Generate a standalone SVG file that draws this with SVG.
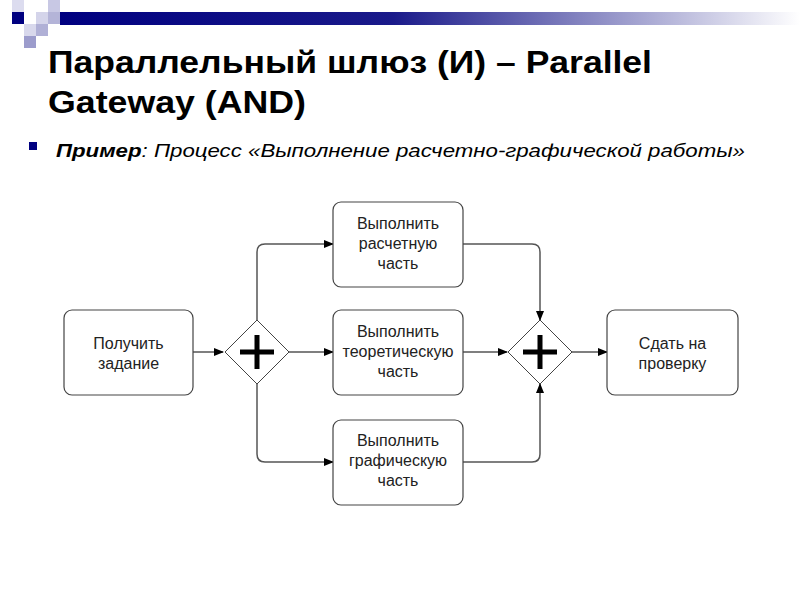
<svg xmlns="http://www.w3.org/2000/svg" width="800" height="600" viewBox="0 0 800 600">
<defs>
<linearGradient id="bar" x1="0" x2="1" y1="0" y2="0"><stop offset="0" stop-color="#000080"/><stop offset="0.45" stop-color="#1a1a8a"/><stop offset="1" stop-color="#ffffff"/></linearGradient>
<marker id="ar" markerWidth="10" markerHeight="8" refX="9" refY="4" orient="auto" markerUnits="userSpaceOnUse"><path d="M0,0 L10,4 L0,8 Z" fill="#000"/></marker>
</defs>
<style>
.box{fill:#fff;stroke:#444;stroke-width:1.2}
.gw{fill:#fff;stroke:#444;stroke-width:1}
.plus{stroke:#000;stroke-width:5}
.c{fill:none;stroke:#555;stroke-width:1.5}
.t{font-family:"Liberation Sans",Arial,sans-serif;font-size:16px;fill:#222;text-anchor:middle}
</style>
<rect width="800" height="600" fill="#fff"/>
<rect x="60" y="12" width="740" height="13" fill="url(#bar)"/>
<rect x="12" y="0" width="12" height="12" fill="#dcdcef"/>
<rect x="48" y="0" width="12" height="12" fill="#c8c8e4"/>
<rect x="12" y="12" width="12" height="12" fill="#000080"/>
<rect x="36" y="12" width="12" height="12" fill="#d4d4ea"/>
<rect x="48" y="12" width="12" height="12" fill="#b4b4d8"/>
<rect x="24" y="24" width="12" height="12" fill="#d8d8ec"/>
<rect x="36" y="24" width="12" height="12" fill="#b0b0d6"/>
<rect x="24" y="36" width="12" height="12" fill="#9c9ccc"/>
<text x="48" y="73" font-family="Liberation Sans,Arial,sans-serif" font-size="31" font-weight="bold" fill="#000" textLength="604" lengthAdjust="spacingAndGlyphs">Параллельный шлюз (И) – Parallel</text>
<text x="48" y="113" font-family="Liberation Sans,Arial,sans-serif" font-size="31" font-weight="bold" fill="#000" textLength="258" lengthAdjust="spacingAndGlyphs">Gateway (AND)</text>
<rect x="29" y="142" width="8" height="8" fill="#000080"/>
<text x="56" y="157" font-family="Liberation Sans,Arial,sans-serif" font-size="19" font-style="italic" fill="#000" textLength="689" lengthAdjust="spacingAndGlyphs"><tspan font-weight="bold">Пример</tspan>: Процесс «Выполнение расчетно-графической работы»</text>
<g id="connectors">
<path class="c" d="M193,352 H223" marker-end="url(#ar)"/>
<path class="c" d="M289,352 H333" marker-end="url(#ar)"/>
<path class="c" d="M257,320 V252 Q257,244 265,244 H333" marker-end="url(#ar)"/>
<path class="c" d="M257,384 V454 Q257,462 265,462 H333" marker-end="url(#ar)"/>
<path class="c" d="M463,352 H507" marker-end="url(#ar)"/>
<path class="c" d="M463,244 H532 Q540,244 540,252 V320" marker-end="url(#ar)"/>
<path class="c" d="M463,462 H532 Q540,462 540,454 V384" marker-end="url(#ar)"/>
<path class="c" d="M572,352 H607" marker-end="url(#ar)"/>
</g>
<g id="n1"><rect class="box" x="64" y="310" width="129" height="85" rx="8"/><text class="t" x="128.5" y="349">Получить</text><text class="t" x="128.5" y="369">задание</text></g>
<g id="g1"><path class="gw" d="M257,320 L289,352 L257,384 L225,352 Z"/><path class="plus" d="M257,335 V369 M240,352 H274"/></g>
<g id="n2"><rect class="box" x="333" y="202" width="130" height="85" rx="8"/><text class="t" x="398" y="229">Выполнить</text><text class="t" x="398" y="249">расчетную</text><text class="t" x="398" y="269">часть</text></g>
<g id="n3"><rect class="box" x="333" y="310" width="130" height="85" rx="8"/><text class="t" x="398" y="337">Выполнить</text><text class="t" x="398" y="357">теоретическую</text><text class="t" x="398" y="377">часть</text></g>
<g id="n4"><rect class="box" x="333" y="420" width="130" height="85" rx="8"/><text class="t" x="398" y="446">Выполнить</text><text class="t" x="398" y="466">графическую</text><text class="t" x="398" y="486">часть</text></g>
<g id="g2"><path class="gw" d="M540,320 L572,352 L540,384 L508,352 Z"/><path class="plus" d="M540,335 V369 M523,352 H557"/></g>
<g id="n5"><rect class="box" x="607" y="310" width="131" height="85" rx="8"/><text class="t" x="672.5" y="349">Сдать на</text><text class="t" x="672.5" y="369">проверку</text></g>
</svg>
